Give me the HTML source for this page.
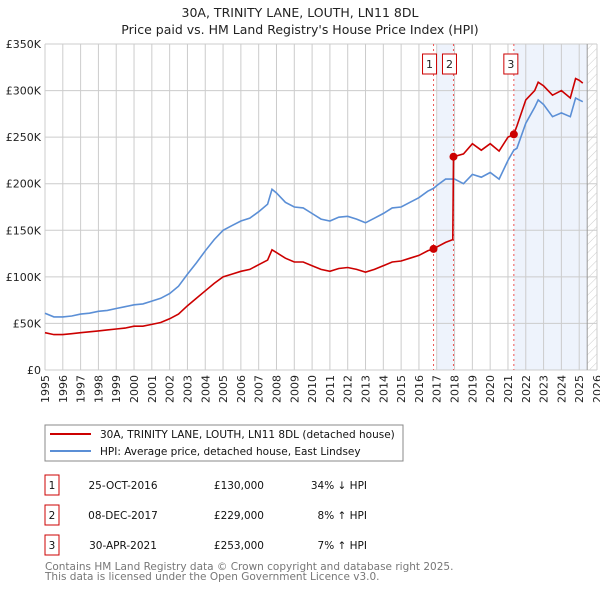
<!DOCTYPE html>
<html><head><meta charset="utf-8">
<style>
body{margin:0;background:#fff;width:600px;height:590px;overflow:hidden;font-family:"DejaVu Sans","Liberation Sans",sans-serif;}
svg text{font-family:"DejaVu Sans","Liberation Sans",sans-serif;}
</style></head>
<body>
<svg id="chart" width="600" height="590" xmlns="http://www.w3.org/2000/svg">
<text x="300" y="17" text-anchor="middle" font-size="12.5" fill="#222">30A, TRINITY LANE, LOUTH, LN11 8DL</text>
<text x="300" y="34" text-anchor="middle" font-size="12.5" fill="#222">Price paid vs. HM Land Registry's House Price Index (HPI)</text>
<g id="grid"></g>
<g id="marks"></g>
<g id="axes"></g>
<rect x="45" y="425" width="358" height="36" fill="#fff" stroke="#888"/>
<line x1="50" y1="434" x2="91" y2="434" stroke="#cc0000" stroke-width="2"/>
<text x="100" y="438" font-size="10.5" fill="#111">30A, TRINITY LANE, LOUTH, LN11 8DL (detached house)</text>
<line x1="50" y1="451" x2="91" y2="451" stroke="#5b8fd6" stroke-width="2"/>
<text x="100" y="455" font-size="10.5" fill="#111">HPI: Average price, detached house, East Lindsey</text>
<g id="table" font-size="10.5" fill="#111"></g>
<text x="45" y="570" font-size="10.5" fill="#777">Contains HM Land Registry data © Crown copyright and database right 2025.</text>
<text x="45" y="580" font-size="10.5" fill="#777">This data is licensed under the Open Government Licence v3.0.</text>
</svg>
<script>
const hpiYears=[1995,1995.5,1996,1996.5,1997,1997.5,1998,1998.5,1999,1999.5,2000,2000.5,2001,2001.5,2002,2002.5,2003,2003.5,2004,2004.5,2005,2005.5,2006,2006.5,2007,2007.5,2007.75,2008,2008.5,2009,2009.5,2010,2010.5,2011,2011.5,2012,2012.5,2013,2013.5,2014,2014.5,2015,2015.5,2016,2016.5,2016.82,2017,2017.5,2018,2018.5,2019,2019.5,2020,2020.5,2021,2021.33,2021.5,2022,2022.5,2022.7,2023,2023.5,2024,2024.5,2024.8,2025,2025.2];
const hpiValues=[61,57,57,58,60,61,63,64,66,68,70,71,74,77,82,90,103,115,128,140,150,155,160,163,170,178,194,190,180,175,174,168,162,160,164,165,162,158,163,168,174,175,180,185,192,195,198,205,205,200,210,207,212,205,225,236,238,265,282,290,285,272,276,272,292,290,288];
const priceYears=[1995,1995.5,1996,1996.5,1997,1997.5,1998,1998.5,1999,1999.5,2000,2000.5,2001,2001.5,2002,2002.5,2003,2003.5,2004,2004.5,2005,2005.5,2006,2006.5,2007,2007.5,2007.75,2008,2008.5,2009,2009.5,2010,2010.5,2011,2011.5,2012,2012.5,2013,2013.5,2014,2014.5,2015,2015.5,2016,2016.5,2016.82,2017,2017.5,2017.9,2017.94,2018.5,2019,2019.5,2020,2020.5,2021,2021.33,2021.5,2022,2022.5,2022.7,2023,2023.5,2024,2024.5,2024.8,2025,2025.2];
const priceValues=[40,38,38,39,40,41,42,43,44,45,47,47,49,51,55,60,69,77,85,93,100,103,106,108,113,118,129,126,120,116,116,112,108,106,109,110,108,105,108,112,116,117,120,123,128,130,132,137,140,229,232,243,236,243,235,250,253,262,290,300,309,305,295,300,292,313,311,308];
const saleYears=[2016.82,2017.94,2021.33];
const saleValues=[130,229,253];
const saleLabels=["1","2","3"];
const saleDates=["25-OCT-2016","08-DEC-2017","30-APR-2021"];
const salePrices=["£130,000","£229,000","£253,000"];
const saleHpi=["34% ↓ HPI","8% ↑ HPI","7% ↑ HPI"];
const yTicks=[0,50,100,150,200,250,300,350];
const yTickLabels=["£0","£50K","£100K","£150K","£200K","£250K","£300K","£350K"];
const xTicks=[1995,1996,1997,1998,1999,2000,2001,2002,2003,2004,2005,2006,2007,2008,2009,2010,2011,2012,2013,2014,2015,2016,2017,2018,2019,2020,2021,2022,2023,2024,2025,2026];
const dataEnd=2025.45;

const NS="http://www.w3.org/2000/svg";
const X0=45,X1=597,Y0=370,Y1=44;
const xs=y=>X0+(y-1995)/(2026-1995)*(X1-X0);
const ys=v=>Y0-v/350*(Y0-Y1);
function mk(tag,attrs,parent){const e=document.createElementNS(NS,tag);for(const k in attrs)e.setAttribute(k,attrs[k]);parent.appendChild(e);return e;}
const grid=document.getElementById('grid'),marks=document.getElementById('marks'),axes=document.getElementById('axes'),table=document.getElementById('table');

let r=mk('rect',{x:xs(saleYears[0])+4,y:Y1,width:xs(saleYears[1])-xs(saleYears[0])-4,height:Y0-Y1,fill:'#eef3fc'},grid);


r=mk('rect',{x:xs(saleYears[2]),y:Y1,width:xs(dataEnd)-xs(saleYears[2]),height:Y0-Y1,fill:'#eef3fc'},grid);


const defs=mk('defs',{},grid);
const pat=mk('pattern',{id:'hatch',width:6,height:6,patternUnits:'userSpaceOnUse',patternTransform:'rotate(45)'},defs);
mk('line',{x1:0,y1:0,x2:0,y2:6,stroke:'#ccc','stroke-width':1},pat);
r=mk('rect',{x:xs(dataEnd),y:Y1,width:X1-xs(dataEnd),height:Y0-Y1,fill:'url(#hatch)'},grid);



xTicks.forEach(t=>{const l=mk('line',{x1:xs(t),x2:xs(t),y1:Y1,y2:Y0,stroke:'#ccc','stroke-width':1},grid);


const px=xs(t)+4,py=375;
const tx=mk('text',{x:px,y:py,'text-anchor':'end','font-size':11,fill:'#222',transform:'rotate(-90 '+px+' '+py+')'},axes);tx.textContent=t;

});
yTicks.forEach((t,i)=>{const l=mk('line',{x1:X0,x2:X1,y1:ys(t),y2:ys(t),stroke:'#ccc','stroke-width':1},grid);


const tx=mk('text',{x:41,y:ys(t)+4,'text-anchor':'end','font-size':11,fill:'#222'},axes);tx.textContent=yTickLabels[i];

});
const edge=mk('line',{x1:xs(dataEnd),x2:xs(dataEnd),y1:Y1,y2:Y0,stroke:'#999','stroke-width':1},grid);



saleYears.forEach((s,i)=>{const l=mk('line',{x1:xs(s),x2:xs(s),y1:Y1,y2:Y0,stroke:'#e55','stroke-width':1,'stroke-dasharray':'2,3'},marks);

});

const pts=(xa,va)=>xa.map((x,i)=>xs(x).toFixed(1)+','+ys(va[i]).toFixed(1)).join(' ');
let p=mk('polyline',{points:pts(hpiYears,hpiValues),fill:'none',stroke:'#5b8fd6','stroke-width':1.6},marks);


p=mk('polyline',{points:pts(priceYears,priceValues),fill:'none',stroke:'#cc0000','stroke-width':1.6},marks);



saleYears.forEach((s,i)=>{const c=mk('circle',{cx:xs(s),cy:ys(saleValues[i]),r:4,fill:'#cc0000'},marks);


const g=mk('rect',{x:xs(s)+(i==2?-10:-11),y:54,width:14,height:20,fill:'#fff',stroke:'#cc0000'},marks);


const t=mk('text',{x:xs(s)+(i==2?-3:-4),y:68,'text-anchor':'middle','font-size':11,fill:'#222'},marks);t.textContent=saleLabels[i];

});

saleLabels.forEach((lab,i)=>{const y=485+i*30;
const b=mk('rect',{x:45,y:y-10,width:14,height:20,fill:'#fff',stroke:'#cc0000'},table);


let t=mk('text',{x:52,y:y+4,'text-anchor':'middle'},table);t.textContent=lab;


t=mk('text',{x:123,y:y+4,'text-anchor':'middle'},table);t.textContent=saleDates[i];


t=mk('text',{x:264,y:y+4,'text-anchor':'end'},table);t.textContent=salePrices[i];


t=mk('text',{x:367,y:y+4,'text-anchor':'end'},table);t.textContent=saleHpi[i];

});
</script>
</body></html>
